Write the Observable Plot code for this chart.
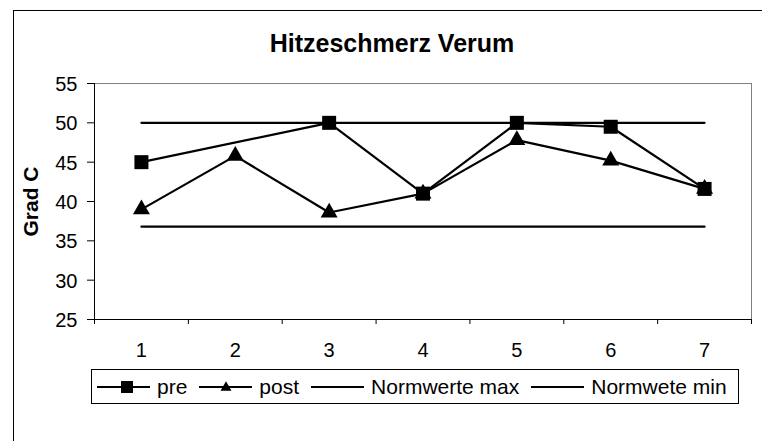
<!DOCTYPE html>
<html>
<head>
<meta charset="utf-8">
<script src="https://cdn.jsdelivr.net/npm/d3@7"></script>
<script src="https://cdn.jsdelivr.net/npm/@observablehq/plot@0.6"></script>
<style>
  html, body { margin: 0; padding: 0; background: #fff; }
  #wrap { position: relative; width: 762px; height: 441px; overflow: hidden; font-family: "Liberation Sans", Arial, sans-serif; }
  #border { position: absolute; left: 13px; top: 10px; width: 800px; height: 500px; border-left: 1px solid #000; border-top: 1px solid #000; pointer-events: none; }
  #legend { position: absolute; left: 91px; top: 369px; width: 648px; height: 35px; box-sizing: border-box; border: 1px solid #000; display: flex; align-items: center; padding-left: 5px; font-size: 21px; color: #000; background: #fff; }
  .item { display: flex; align-items: center; margin-right: 12px; white-space: nowrap; }
  .item svg { display: block; margin-right: 7px; }
</style>
</head>
<body>
<div id="wrap">
  <div id="chart"></div>
  <div id="border"></div>
  <div id="legend"></div>
</div>
<script>
// ---- data ----
const title = "Hitzeschmerz Verum";
const yLabel = "Grad C";
const categories = [1, 2, 3, 4, 5, 6, 7];
const pre = [45, null, 50, 41, 50, 49.5, 41.6];
const post = [39, 45.8, 38.6, 41, 47.8, 45.2, 41.6];
const normMax = [50, 50, 50, 50, 50, 50, 50];
const normMin = [36.8, 36.8, 36.8, 36.8, 36.8, 36.8, 36.8];
const yTicks = [25, 30, 35, 40, 45, 50, 55];
const seriesNames = ["pre", "post", "Normwerte max", "Normwete min"];
const seriesSymbols = ["square", "triangle", null, null];

// ---- build tables ----
const toRows = (vals) => categories.map((c, i) => ({x: c, y: vals[i]})).filter(d => d.y != null);
const preRows = toRows(pre);
const postRows = toRows(post);
const maxRows = toRows(normMax);
const minRows = toRows(normMin);
const bandEdges = [...categories.map(c => c - 0.5), categories[categories.length - 1] + 0.5];

const chart = Plot.plot({
  width: 762,
  height: 441,
  marginLeft: 94,
  marginRight: 11,
  marginTop: 83,
  marginBottom: 122,
  x: {domain: [bandEdges[0], bandEdges[bandEdges.length - 1]], axis: null},
  y: {domain: [yTicks[0], yTicks[yTicks.length - 1]], axis: null},
  style: {fontFamily: "'Liberation Sans', Arial, sans-serif", background: "transparent", color: "#000"},
  marks: [
    Plot.frame({stroke: "#808080", strokeWidth: 1}),
    Plot.ruleX([bandEdges[0]], {stroke: "#000", strokeWidth: 1}),
    Plot.ruleY([yTicks[0]], {stroke: "#000", strokeWidth: 1}),
    Plot.axisY({ticks: yTicks, tickSize: 7, tickFormat: () => "", stroke: "#000", label: null}),
    Plot.axisX({ticks: bandEdges, tickSize: 5, tickFormat: () => "", stroke: "#000", label: null}),
    Plot.text(yTicks, {y: d => d, frameAnchor: "left", dx: -17, textAnchor: "end", lineAnchor: "middle", fontSize: 20, fill: "#000", dy: 1}),
    Plot.text(categories, {x: d => d, frameAnchor: "bottom", dy: 31, textAnchor: "middle", lineAnchor: "middle", fontSize: 20, fill: "#000"}),
    Plot.line(maxRows, {x: "x", y: "y", stroke: "#000", strokeWidth: 2.2}),
    Plot.line(minRows, {x: "x", y: "y", stroke: "#000", strokeWidth: 2.2}),
    Plot.line(preRows, {x: "x", y: "y", stroke: "#000", strokeWidth: 2.2}),
    Plot.line(postRows, {x: "x", y: "y", stroke: "#000", strokeWidth: 2.2}),
    Plot.dot(preRows, {x: "x", y: "y", symbol: "square", r: 7.9, fill: "#000", stroke: null}),
    Plot.dot(postRows, {x: "x", y: "y", symbol: "triangle", r: 6.3, fill: "#000", stroke: null}),
    Plot.text([title], {frameAnchor: "top", dy: -40, dx: -31, textAnchor: "middle", lineAnchor: "middle", fontWeight: "bold", fontSize: 25, fill: "#000"}),
    Plot.text([yLabel], {frameAnchor: "left", dx: -63.5, rotate: -90, textAnchor: "middle", lineAnchor: "middle", fontWeight: "bold", fontSize: 21, fill: "#000"})
  ]
});
document.getElementById("chart").appendChild(chart);

// ---- legend ----
const legend = d3.select("#legend");
seriesNames.forEach((name, i) => {
  const item = legend.append("div").attr("class", "item");
  const sw = item.append("svg").attr("width", 53).attr("height", 16);
  sw.append("line").attr("x1", 0).attr("x2", 53).attr("y1", 8).attr("y2", 8).attr("stroke", "#000").attr("stroke-width", 2);
  const sym = seriesSymbols[i];
  if (sym === "square") {
    sw.append("rect").attr("x", 30 - 6).attr("y", 2).attr("width", 12).attr("height", 12).attr("fill", "#000");
  } else if (sym === "triangle") {
    sw.append("path").attr("d", d3.symbol(d3.symbolTriangle, 52)()).attr("transform", "translate(27,8.5)").attr("fill", "#000");
  }
  item.append("span").text(name);
});
</script>
</body>
</html>
